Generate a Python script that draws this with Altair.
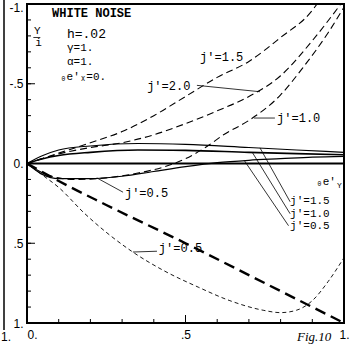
import altair as alt
import pandas as pd

# ---------------- curve data (x: lateral position, y: Y/i, downward positive) ----------------
# j'=1.5, dashed, bending upward
A_X = [0, 0.1, 0.2, 0.3, 0.4, 0.5, 0.6, 0.7, 0.8, 0.9, 0.915]
A_Y = [0, -0.065, -0.13, -0.2, -0.3, -0.42, -0.54, -0.64, -0.79, -0.96, -1.0]

# j'=2.0, dashed
B_X = [0, 0.1, 0.2, 0.3, 0.4, 0.5, 0.6, 0.7, 0.8, 0.9, 0.99]
B_Y = [0, -0.06, -0.1, -0.13, -0.18, -0.25, -0.33, -0.42, -0.55, -0.77, -1.0]

# j'=1.0, dashed, dips first then rises
C_X = [0, 0.05, 0.1, 0.15, 0.25, 0.35, 0.45, 0.5, 0.57, 0.62, 0.7, 0.8, 0.87, 0.95, 1.0]
C_Y = [0, 0.06, 0.09, 0.1, 0.09, 0.06, 0.01, -0.03, -0.11, -0.18, -0.27, -0.43, -0.6, -0.82, -0.98]

# e'_Y solid curves
S_X = [0, 0.05, 0.1, 0.2, 0.35, 0.5, 0.7, 0.85, 1.0]
S15_Y = [0, -0.05, -0.085, -0.11, -0.125, -0.12, -0.1, -0.085, -0.07]
S10_Y = [0, -0.03, -0.05, -0.07, -0.085, -0.082, -0.07, -0.062, -0.055]
S05_X = [0, 0.05, 0.1, 0.2, 0.3, 0.4, 0.5, 0.6, 0.7, 0.8, 0.9, 1.0]
S05_Y = [0, 0.07, 0.095, 0.095, 0.08, 0.05, 0.02, -0.005, -0.02, -0.03, -0.04, -0.045]

# e'_X = 0 baseline
Z_X = [0, 1]
Z_Y = [0, 0]

# heavy long-dash diagonal
H_X = [0, 0.1, 0.25, 0.5, 0.75, 1.0]
H_Y = [0, 0.11, 0.26, 0.5, 0.75, 1.0]

# j'=0.5, fine dashed, deep sag
D_X = [0, 0.04, 0.1, 0.18, 0.33, 0.43, 0.54, 0.64, 0.745, 0.8, 0.85, 0.9, 0.95, 1.0]
D_Y = [0, 0.06, 0.15, 0.31, 0.55, 0.67, 0.775, 0.86, 0.92, 0.935, 0.92, 0.86, 0.74, 0.59]

# ---------------- axes ----------------
X_TICKS = [0, 0.5, 1]
X_TICK_LABELS = ["0.", ".5", "1."]
Y_TICKS = [-1, -0.5, 0, 0.5, 1]
Y_TICK_LABELS = ["-1.", "-.5", "0.", ".5", "1."]
MINOR_TICKS = [round(i / 10 - 1, 1) for i in range(21)]
X_MINOR = [round(i / 10, 1) for i in range(11)]

# ---------------- annotations ----------------
TITLE_TEXT = ["WHITE NOISE"]
TITLE_X = [0.079]
TITLE_Y = [-0.944]

LABEL_TEXT = ["j'=1.5", "j'=2.0", "j'=1.0", "j'=0.5", "j'=0.5", "j'=1.5", "j'=1.0", "j'=0.5",
              "h=.02", "γ=1.", "α=1.", "₀e'ₓ=0.", "Y", "i", "₀e'", "Y"]
LABEL_X = [0.546, 0.379, 0.789, 0.309, 0.416, 0.83, 0.83, 0.83,
           0.126, 0.126, 0.126, 0.104, 0.022, 0.026, 0.912, 0.978]
LABEL_Y = [-0.668, -0.486, -0.285, 0.185, 0.53, 0.236, 0.315, 0.394,
           -0.812, -0.724, -0.636, -0.542, -0.83, -0.755, 0.115, 0.14]
LABEL_SIZE = [12, 12, 12, 12, 12, 11, 11, 11,
              13, 11, 11, 11, 11, 11, 11, 8]

LEAD_X = [0.536, 0.716, 0.22, 0.334, 0.735, 0.71, 0.685, 0.02]
LEAD_Y = [-0.49, -0.285, 0.09, 0.555, -0.098, -0.072, -0.02, -0.79]
LEAD_X2 = [0.735, 0.782, 0.303, 0.41, 0.83, 0.83, 0.825, 0.042]
LEAD_Y2 = [-0.45, -0.285, 0.18, 0.55, 0.24, 0.315, 0.39, -0.79]

X_SCALE = alt.Scale(domain=[0, 1], nice=False, zero=False)
Y_SCALE = alt.Scale(domain=[-1, 1], reverse=True, nice=False, zero=False)


def label_expr(values, labels):
    expr = f"'{labels[-1]}'"
    for v, l in reversed(list(zip(values[:-1], labels[:-1]))):
        expr = f"datum.value == {v} ? '{l}' : " + expr
    return expr


X_AXIS = alt.Axis(values=X_TICKS, labelExpr=label_expr(X_TICKS, X_TICK_LABELS), ticks=False,
                  domain=False, grid=False, title=None, labelFont="Liberation Sans",
                  labelFontSize=12, labelColor="black", labelPadding=6, labelFlush=False,
                  labelAlign={"condition": {"test": "datum.value == 0", "value": "left"},
                              "value": "center"})
Y_AXIS = alt.Axis(values=Y_TICKS, labelExpr=label_expr(Y_TICKS, Y_TICK_LABELS), ticks=False,
                  domain=False, grid=False, title=None, labelFont="Liberation Sans",
                  labelFontSize=12, labelColor="black", labelPadding=4, labelFlush=False,
                  labelBound=False,
                  labelOffset={"condition": {"test": "datum.value == -1", "value": 3},
                               "value": 0})


def xenc(field="x"):
    return alt.X(f"{field}:Q", scale=X_SCALE, axis=X_AXIS)


def yenc(field="y"):
    return alt.Y(f"{field}:Q", scale=Y_SCALE, axis=Y_AXIS)


def curve(xs, ys, width, dash=None):
    df = pd.DataFrame({"x": xs, "y": ys})
    kw = dict(color="black", strokeWidth=width, interpolate="monotone", clip=True)
    if dash:
        kw["strokeDash"] = dash
    return alt.Chart(df).mark_line(**kw).encode(x=xenc(), y=yenc())


layers = [
    curve(Z_X, Z_Y, 2.0),
    curve(S_X, S15_Y, 1.1),
    curve(S_X, S10_Y, 1.6),
    curve(S05_X, S05_Y, 1.2),
    curve(A_X, A_Y, 1.1, [7, 4]),
    curve(B_X, B_Y, 1.1, [7, 4]),
    curve(C_X, C_Y, 1.1, [7, 4]),
    curve(H_X, H_Y, 2.4, [11, 6]),
    curve(D_X, D_Y, 0.9, [4, 3]),
]

# inside tick marks
ytick = pd.DataFrame({"y": MINOR_TICKS})
layers.append(alt.Chart(ytick).mark_rule(color="black", strokeWidth=1).encode(
    y=yenc(), x=alt.value(0), x2=alt.value(4)))
layers.append(alt.Chart(pd.DataFrame({"y": [-0.5, 0.5]})).mark_rule(color="black", strokeWidth=1).encode(
    y=yenc(), x=alt.value(0), x2=alt.value(8)))
xtick = pd.DataFrame({"x": X_MINOR})
layers.append(alt.Chart(xtick).mark_rule(color="black", strokeWidth=1).encode(
    x=xenc(), y=alt.value(319), y2=alt.value(315)))
layers.append(alt.Chart(pd.DataFrame({"x": [0.5]})).mark_rule(color="black", strokeWidth=1).encode(
    x=xenc(), y=alt.value(319), y2=alt.value(311)))

# leader lines
lead = pd.DataFrame({"x": LEAD_X, "y": LEAD_Y, "x2": LEAD_X2, "y2": LEAD_Y2})
layers.append(alt.Chart(lead).mark_rule(color="black", strokeWidth=0.8).encode(
    x=xenc(), y=yenc(), x2="x2:Q", y2="y2:Q"))

# text labels
lab = pd.DataFrame({"x": LABEL_X, "y": LABEL_Y, "t": LABEL_TEXT, "s": LABEL_SIZE})
layers.append(alt.Chart(lab).mark_text(align="left", baseline="middle", font="Liberation Mono",
                                       color="black").encode(
    x=xenc(), y=yenc(), text="t:N", size=alt.Size("s:Q", scale=None, legend=None)))
ttl = pd.DataFrame({"x": TITLE_X, "y": TITLE_Y, "t": TITLE_TEXT})
layers.append(alt.Chart(ttl).mark_text(align="left", baseline="middle", font="Liberation Mono",
                                       fontSize=12, fontWeight="bold", color="black").encode(
    x=xenc(), y=yenc(), text="t:N"))

one = pd.DataFrame({"k": [0]})
layers.append(alt.Chart(one).mark_text(text="Fig.10", font="Liberation Serif", fontStyle="italic",
                                       fontSize=13, align="left", baseline="middle",
                                       color="black").encode(
    x=alt.value(270), y=alt.value(333)))
# edge of the neighbouring panel
layers.append(alt.Chart(one).mark_rule(color="black", strokeWidth=1.5).encode(
    x=alt.value(-23), y=alt.value(-4), y2=alt.value(326)))
layers.append(alt.Chart(one).mark_text(text="1.", font="Liberation Sans", fontSize=12,
                                       align="left", baseline="middle", color="black").encode(
    x=alt.value(-26), y=alt.value(333)))

chart = alt.layer(*layers).properties(
    width=317, height=319,
    autosize=alt.AutoSizeParams(type="none"),
    padding={"left": 27, "top": 4, "right": 13, "bottom": 22},
    background="white",
).configure_view(stroke="black", strokeWidth=2)

chart.save("out.html", embed_options={"renderer": "svg", "actions": False})
